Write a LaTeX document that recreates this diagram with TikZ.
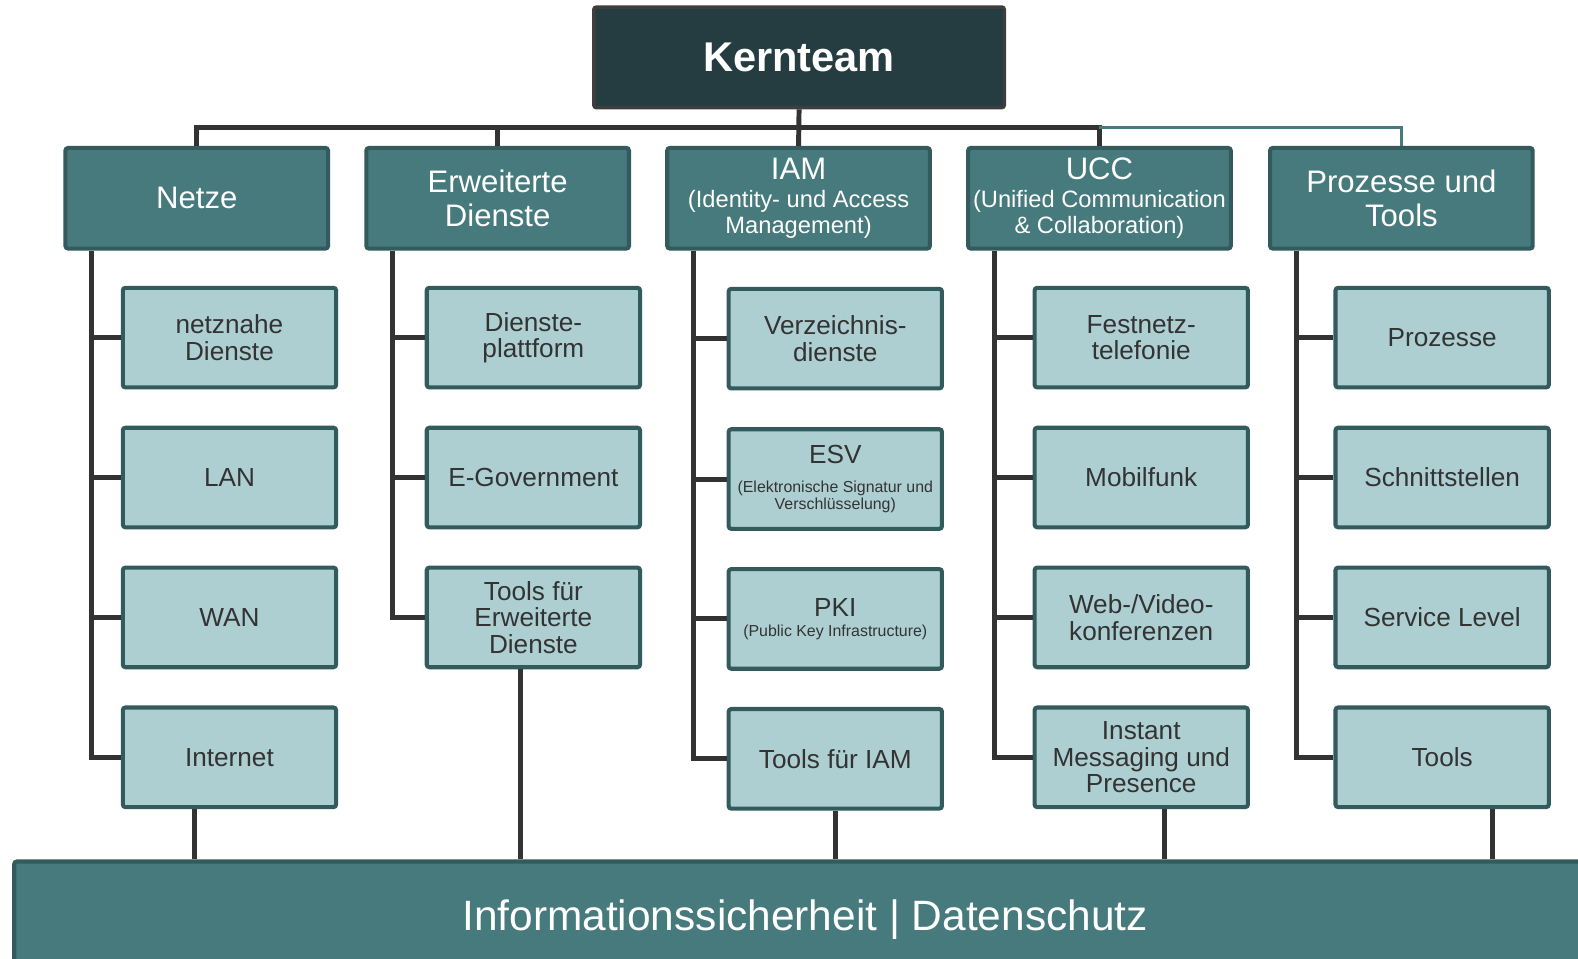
\documentclass[tikz,border=0pt]{standalone}
\usepackage{fontspec}
\setmainfont{Liberation Sans}
\definecolor{kerndark}{HTML}{253D40}
\definecolor{kernedge}{HTML}{3E3E3E}
\definecolor{headteal}{HTML}{467A7C}
\definecolor{edgeteal}{HTML}{335B5E}
\definecolor{lightteal}{HTML}{ADCFD2}
\definecolor{linegray}{HTML}{333333}
\definecolor{textgray}{HTML}{333333}
\newcommand{\subt}{\fontsize{13.4}{14}\selectfont}
\newcommand{\smalltxt}{\fontsize{9}{9.6}\selectfont}

\begin{document}
\begin{tikzpicture}[x=0.02cm, y=-0.02cm,
    kernbox/.style={draw=kernedge, line width=2pt, fill=kerndark, text=white, font=\fontsize{23.5}{26}\selectfont\bfseries, minimum width=8.16cm, minimum height=2cm, inner sep=0pt, rounded corners=1.5pt},
    headbox/.style={draw=edgeteal, line width=2.3pt, fill=headteal, text=white, font=\fontsize{17.6}{19.3}\selectfont, align=center, minimum width=5.22cm, minimum height=2cm, inner sep=0pt, rounded corners=1.5pt},
    subbox/.style={draw=edgeteal, line width=2.3pt, fill=lightteal, text=textgray, font=\fontsize{14.8}{15}\selectfont, align=center, minimum width=4.24cm, minimum height=1.98cm, inner sep=0pt, rounded corners=1.5pt},
    secbar/.style={draw=edgeteal, line width=2.3pt, fill=headteal, text=white, font=\fontsize{24}{26}\selectfont, minimum width=31.44cm, minimum height=2.32cm, inner sep=0pt, rounded corners=1.5pt},
    conn/.style={draw=linegray, line width=2.8pt},
    tealline/.style={draw=headteal, line width=1.7pt}]
    \clip (0,0) rectangle (1568,952);

    % Kernteam
    \node[kernbox] (kern) at (794,57) {Kernteam};

    % Column heads
    \node[headbox] (netze) at (195.5,197) {Netze};
    \node[headbox] (erw) at (494.5,197) {Erweiterte\\Dienste};
    \node[headbox] (iam) at (793.5,197) {IAM\\[-3.6pt]\subt (Identity- und Access\\[-4.5pt]\subt Management)};
    \node[headbox] (ucc) at (1092.5,197) {UCC\\[-3.6pt]\subt (Unified Communication\\[-4.5pt]\subt \& Collaboration)};
    \node[headbox] (proz) at (1392.5,197) {Prozesse und\\Tools};

    % Netze
    \node[subbox] (netz1) at (228,335.5) {netznahe\\Dienste};
    \node[subbox] (netz2) at (228,474.5) {LAN};
    \node[subbox] (netz3) at (228,613.5) {WAN};
    \node[subbox] (netz4) at (228,752.5) {Internet};

    % Erweiterte Dienste
    \node[subbox] (erw1) at (530,335.5) {Dienste-\\plattform};
    \node[subbox] (erw2) at (530,474.5) {E-Government};
    \node[subbox] (erw3) at (530,613.5) {Tools für\\Erweiterte\\Dienste};

    % IAM
    \node[subbox] (iam1) at (830,336.5) {Verzeichnis-\\dienste};
    \node[subbox] (iam2) at (830,476) {ESV\\[1.5pt]\smalltxt (Elektronische Signatur und\\[-5.4pt]\smalltxt Verschlüsselung)};
    \node[subbox] (iam3) at (830,615) {PKI\\[-3.5pt]\smalltxt (Public Key Infrastructure)};
    \node[subbox] (iam4) at (830,754) {Tools für IAM};

    % UCC
    \node[subbox] (ucc1) at (1134,335.5) {Festnetz-\\telefonie};
    \node[subbox] (ucc2) at (1134,474.5) {Mobilfunk};
    \node[subbox] (ucc3) at (1134,613.5) {Web-/Video-\\konferenzen};
    \node[subbox] (ucc4) at (1134,752.5) {Instant\\Messaging und\\Presence};

    % Prozesse und Tools
    \node[subbox] (proz1) at (1433,335.5) {Prozesse};
    \node[subbox] (proz2) at (1433,474.5) {Schnittstellen};
    \node[subbox] (proz3) at (1433,613.5) {Service Level};
    \node[subbox] (proz4) at (1433,752.5) {Tools};

    % Informationssicherheit
    \node[secbar] (sec) at (800,914) {Informationssicherheit | Datenschutz};

    % Top bar
    \coordinate (bar) at (0,127);
    \draw[conn] (netze.north) |- (ucc.north |- bar) -- (ucc.north);
    \draw[conn] (erw.north) -- (erw.north |- bar);
    \draw[conn] (kern.south) -- (iam.north);
    \draw[tealline] (ucc.north |- bar) -| (proz.north);

    % Trunks
    \coordinate (t1) at ([xshift=0.56cm]netze.south west);
    \coordinate (t2) at ([xshift=0.56cm]erw.south west);
    \coordinate (t3) at ([xshift=0.56cm]iam.south west);
    \coordinate (t4) at ([xshift=0.56cm]ucc.south west);
    \coordinate (t5) at ([xshift=0.56cm]proz.south west);
    \draw[conn] (t1) |- (netz4.west);
    \draw[conn] (t1 |- netz1.west) -- (netz1.west) (t1 |- netz2.west) -- (netz2.west) (t1 |- netz3.west) -- (netz3.west);
    \draw[conn] (t2) |- (erw3.west);
    \draw[conn] (t2 |- erw1.west) -- (erw1.west) (t2 |- erw2.west) -- (erw2.west);
    \draw[conn] (t3) |- (iam4.west);
    \draw[conn] (t3 |- iam1.west) -- (iam1.west) (t3 |- iam2.west) -- (iam2.west) (t3 |- iam3.west) -- (iam3.west);
    \draw[conn] (t4) |- (ucc4.west);
    \draw[conn] (t4 |- ucc1.west) -- (ucc1.west) (t4 |- ucc2.west) -- (ucc2.west) (t4 |- ucc3.west) -- (ucc3.west);
    \draw[conn] (t5) |- (proz4.west);
    \draw[conn] (t5 |- proz1.west) -- (proz1.west) (t5 |- proz2.west) -- (proz2.west) (t5 |- proz3.west) -- (proz3.west);

    % Down to the bar
    \coordinate (d1) at (193,0);
    \coordinate (d2) at (517,0);
    \coordinate (d3) at (830,0);
    \coordinate (d4) at (1157,0);
    \coordinate (d5) at (1483,0);
    \draw[conn] (d1 |- netz4.south) -- (d1 |- sec.north);
    \draw[conn] (d2 |- erw3.south) -- (d2 |- sec.north);
    \draw[conn] (d3 |- iam4.south) -- (d3 |- sec.north);
    \draw[conn] (d4 |- ucc4.south) -- (d4 |- sec.north);
    \draw[conn] (d5 |- proz4.south) -- (d5 |- sec.north);
\end{tikzpicture}
\end{document}
